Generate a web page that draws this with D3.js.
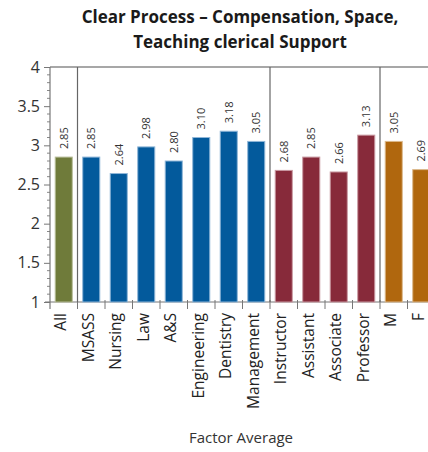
<!DOCTYPE html>
<html><head><meta charset="utf-8">
<script src="https://cdn.jsdelivr.net/npm/d3@7"></script>
<style>
html,body{margin:0;padding:0;background:#fff;overflow:hidden;}
text{font-family:"Open Sans",sans-serif;}
</style></head>
<body>
<script>
const categories = ["All","MSASS","Nursing","Law","A&S","Engineering","Dentistry","Management","Instructor","Assistant","Associate","Professor","M","F"];
const values = [2.85,2.85,2.64,2.98,2.80,3.10,3.18,3.05,2.68,2.85,2.66,3.13,3.05,2.69];
const groups = ["all","school","school","school","school","school","school","school","rank","rank","rank","rank","gender","gender"];
const groupColors = {all:"#6f7b3a", school:"#035a9c", rank:"#872a3a", gender:"#b0670e"};
const groupEdges = {all:"#b7bd98", school:"#8fb6d8", rank:"#c99aa2", gender:"#dcb98c"};
const yTicks = [1,1.5,2,2.5,3,3.5,4];
const separatorsAfter = ["All","Management","Professor"];
const titleLines = ["Clear Process \u2013 Compensation, Space,","Teaching clerical Support"];
const xTitle = "Factor Average";

const W = 428, H = 452;
const svg = d3.select("body").append("svg").attr("width", W).attr("height", H);

const y = d3.scaleLinear().domain([1,4]).range([302,67]);
const x = d3.scaleBand().domain(categories).range([50, 50 + 27.5*categories.length])
  .paddingInner(0.38).paddingOuter(0.19);
const step = x.step();
const left = x.range()[0];

// title
svg.append("g").selectAll("text").data(titleLines).join("text")
  .attr("x", 240).attr("y", (d,i)=>23 + i*25)
  .attr("text-anchor","middle").attr("font-size",17).attr("font-weight","bold")
  .attr("fill","#1a1a1a").text(d=>d);

// top border
svg.append("line").attr("x1", left).attr("x2", W).attr("y1", y(4)).attr("y2", y(4))
  .attr("stroke","#8a8a8a").attr("stroke-width",1.5);

// y axis
const yAxis = d3.axisLeft(y).tickValues(yTicks).tickSize(6).tickPadding(4)
  .tickFormat(d=>d3.format("")(d));
const gy = svg.append("g").attr("transform",`translate(${left},0)`).call(yAxis);
gy.select(".domain").remove();
gy.selectAll(".tick line").attr("stroke","#777");
gy.selectAll(".tick text").attr("font-size",16).attr("fill","#333");
// minor ticks
const minor = d3.range(10, 41).map(v=>v/10).filter(v=>Math.abs(v*2 - Math.round(v*2))>1e-6);
svg.append("g").selectAll("line").data(minor).join("line")
  .attr("x1", left-3).attr("x2", left).attr("y1", d=>y(d)).attr("y2", d=>y(d))
  .attr("stroke","#888");
svg.append("line").attr("x1", left).attr("x2", left).attr("y1", y(4)).attr("y2", y(1)+7)
  .attr("stroke","#777").attr("stroke-width",1.2);

// x axis baseline
svg.append("line").attr("x1", left-5).attr("x2", W).attr("y1", y(1)).attr("y2", y(1))
  .attr("stroke","#777").attr("stroke-width",1.2);
// boundary ticks
svg.append("g").selectAll("line").data(d3.range(1, categories.length+1)).join("line")
  .attr("x1", k=>left + k*step).attr("x2", k=>left + k*step)
  .attr("y1", y(1)-2).attr("y2", y(1)+7).attr("stroke","#777");

// group separators
svg.append("g").selectAll("line").data(separatorsAfter).join("line")
  .attr("x1", d=>x(d)+x.bandwidth()+x.step()*x.paddingInner()/2)
  .attr("x2", d=>x(d)+x.bandwidth()+x.step()*x.paddingInner()/2)
  .attr("y1", y(4)).attr("y2", y(1))
  .attr("stroke","#666").attr("stroke-width",1.2);

// bars
svg.append("g").selectAll("rect").data(categories).join("rect")
  .attr("x", d=>x(d)).attr("width", x.bandwidth())
  .attr("y", (d,i)=>y(values[i])).attr("height", (d,i)=>y(1)-y(values[i]))
  .attr("fill", (d,i)=>groupColors[groups[i]])
  .attr("stroke", (d,i)=>groupEdges[groups[i]]).attr("stroke-width",1);

// value labels
svg.append("g").selectAll("text").data(categories).join("text")
  .attr("transform", (d,i)=>`translate(${x(d)+x.bandwidth()/2+4},${y(values[i])-8}) rotate(-90)`)
  .attr("font-size",11).attr("fill","#333")
  .text((d,i)=>d3.format(".2f")(values[i]));

// category labels
svg.append("g").selectAll("text").data(categories).join("text")
  .attr("transform", d=>`translate(${x(d)+x.bandwidth()/2+2.5},${y(1)+11}) rotate(-90)`)
  .attr("text-anchor","end").attr("font-size",15.5).attr("fill","#222")
  .text(d=>d);

// x title
svg.append("text").attr("x", 241).attr("y", 443).attr("text-anchor","middle")
  .attr("font-size",15).attr("fill","#333").text(xTitle);
</script>
</body></html>
